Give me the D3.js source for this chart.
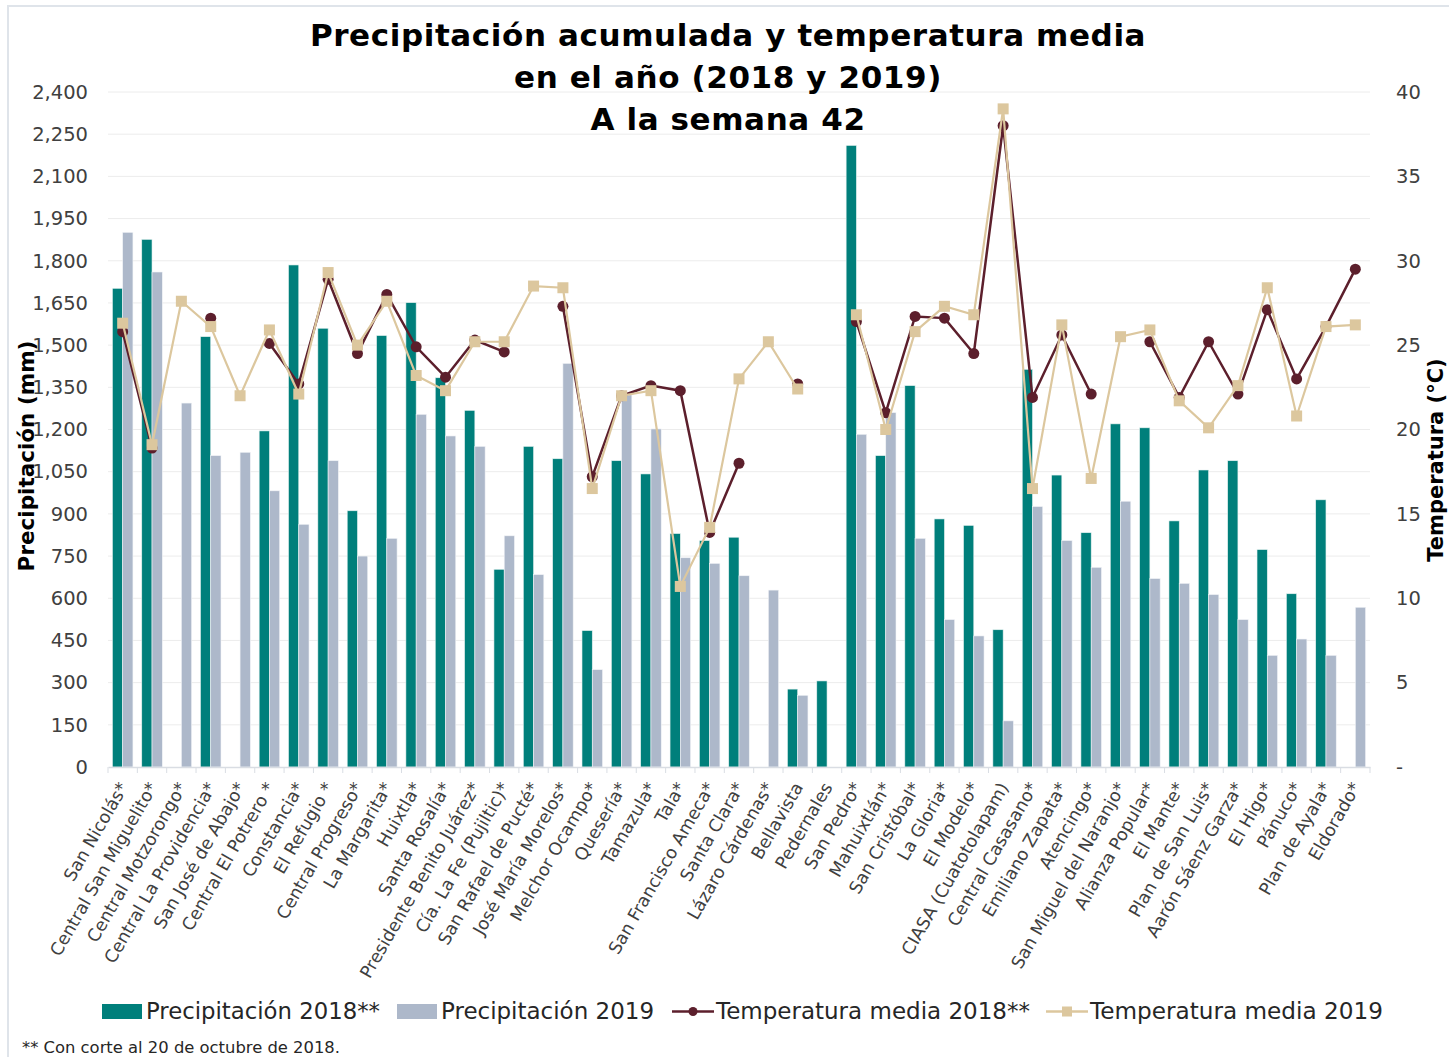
<!DOCTYPE html>
<html lang="es">
  <head>
    <meta charset="utf-8">
    <title>Precipitación y temperatura</title>
    <script src="https://d3js.org/d3.v7.js"></script>
    <style>
      body { margin: 0; background: white; }
      text { font-family: "DejaVu Sans", sans-serif; }
    </style>
  </head>
  <body>
    <script type="text/javascript">

      // categories (ingenios)
      const ingenios = ["San Nicolás*", "Central San Miguelito*", "Central Motzorongo*", "Central La Providencia*",
        "San José de Abajo*", "Central El Potrero *", "Constancia*", "El Refugio *", "Central Progreso*",
        "La Margarita*", "Huixtla*", "Santa Rosalía*", "Presidente Benito Juárez*", "Cía. La Fe (Pujiltic)*",
        "San Rafael de Pucté*", "José María Morelos*", "Melchor Ocampo*", "Quesería*", "Tamazula*", "Tala*",
        "San Francisco Ameca*", "Santa Clara*", "Lázaro Cárdenas*", "Bellavista", "Pedernales", "San Pedro*",
        "Mahuixtlán*", "San Cristóbal*", "La Gloria*", "El Modelo*", "CIASA (Cuatotolapam)", "Central Casasano*",
        "Emiliano Zapata*", "Atencingo*", "San Miguel del Naranjo*", "Alianza Popular*", "El Mante*",
        "Plan de San Luis*", "Aarón Sáenz Garza*", "El Higo*", "Pánuco*", "Plan de Ayala*", "Eldorado*"];

      // precipitacion acumulada (mm)
      const prec2018 = [1702, 1876, null, 1530, null, 1195, 1785, 1560, 911, 1534, 1651, 1384, 1268, 703,
        1140, 1096, 485, 1089, 1042, 830, 805, 817, null, 277, 306, 2210, 1107, 1356, 882, 859, 488, 1414,
        1038, 833, 1220, 1206, 875, 1056, 1089, 773, 616, 950, null];
      const prec2019 = [1901, 1760, 1294, 1107, 1119, 982, 863, 1089, 750, 813, 1254, 1177, 1140, 822,
        684, 1435, 346, 1323, 1202, 744, 724, 680, 629, 255, null, 1183, 1260, 813, 524, 466, 164, 926,
        805, 710, 945, 670, 653, 613, 524, 397, 455, 397, 568];

      // temperatura media (°C)
      const temp2018 = [25.8, 18.9, null, 26.6, null, 25.1, 22.7, 28.9, 24.5, 28.0, 24.9, 23.1, 25.3, 24.6,
        null, 27.3, 17.2, 22.0, 22.6, 22.3, 13.9, 18.0, null, 22.7, null, 26.4, 21.0, 26.7, 26.6, 24.5,
        38.0, 21.9, 25.6, 22.1, null, 25.2, 21.9, 25.2, 22.1, 27.1, 23.0, 26.1, 29.5];
      const temp2019 = [26.3, 19.1, 27.6, 26.1, 22.0, 25.9, 22.1, 29.3, 25.0, 27.6, 23.2, 22.3, 25.2, 25.2,
        28.5, 28.4, 16.5, 22.0, 22.3, 10.7, 14.2, 23.0, 25.2, 22.4, null, 26.8, 20.0, 25.8, 27.3, 26.8,
        39.0, 16.5, 26.2, 17.1, 25.5, 25.9, 21.7, 20.1, 22.6, 28.4, 20.8, 26.1, 26.2];

      const precTicks = d3.range(0, 2401, 150);
      const tempTicks = d3.range(0, 41, 5);

      const titleLines = ["Precipitación acumulada y temperatura media", "en el año (2018 y 2019)", "A la semana 42"];
      const seriesNames = ["Precipitación 2018**", "Precipitación 2019", "Temperatura media 2018**", "Temperatura media 2019"];
      const footnote = "** Con corte al 20 de octubre de 2018.";

      const w = 1449;
      const h = 1057;
      const colTeal = "#007f7b";
      const colGray = "#adb8ca";
      const colDark = "#5c1f2c";
      const colTan = "#dcc79e";

      const x0 = 108, x1 = 1370, yTop = 92, yBase = 767;

      const svg = d3.select("body")
        .append("svg")
        .attr("width", w)
        .attr("height", h);

      svg.append("rect")
        .attr("x", 0).attr("y", 0).attr("width", w).attr("height", h)
        .attr("fill", "white");

      // chart frame
      svg.append("path")
        .attr("d", `M8,${h} L8,6 L${w},6`)
        .attr("fill", "none")
        .attr("stroke", "#dfe4ea")
        .attr("stroke-width", 2);

      // scales
      const xScale = d3.scaleBand()
        .domain(ingenios)
        .range([x0, x1])
        .padding(0);

      const xSub = d3.scaleBand()
        .domain(["2018", "2019"])
        .range([0, xScale.bandwidth()])
        .paddingInner(0)
        .paddingOuter(0.43);

      const yPrec = d3.scaleLinear().domain([0, 2400]).range([yBase, yTop]);
      const yTemp = d3.scaleLinear().domain([0, 40]).range([yBase, yTop]);

      // gridlines
      svg.append("g")
        .selectAll("line")
        .data(precTicks.filter(d => d > 0))
        .enter()
        .append("line")
        .attr("x1", x0).attr("x2", x1)
        .attr("y1", d => yPrec(d)).attr("y2", d => yPrec(d))
        .attr("stroke", "#ececec")
        .attr("stroke-width", 1);

      // bars
      const bars = svg.append("g").attr("id", "bars");
      bars.selectAll("rect.p18")
        .data(ingenios.map((d, i) => ({ name: d, v: prec2018[i] })).filter(d => d.v != null))
        .enter()
        .append("rect")
        .attr("class", "p18")
        .attr("x", d => xScale(d.name) + xSub("2018"))
        .attr("width", xSub.bandwidth())
        .attr("y", d => yPrec(d.v))
        .attr("height", d => yBase - yPrec(d.v))
        .attr("fill", colTeal)
        .attr("stroke", "#e6f2f1")
        .attr("stroke-width", 0.6);

      bars.selectAll("rect.p19")
        .data(ingenios.map((d, i) => ({ name: d, v: prec2019[i] })).filter(d => d.v != null))
        .enter()
        .append("rect")
        .attr("class", "p19")
        .attr("x", d => xScale(d.name) + xSub("2019"))
        .attr("width", xSub.bandwidth())
        .attr("y", d => yPrec(d.v))
        .attr("height", d => yBase - yPrec(d.v))
        .attr("fill", colGray)
        .attr("stroke", "#f2f4f7")
        .attr("stroke-width", 0.6);

      // x axis
      const xAxis = d3.axisBottom(xScale).tickSize(0).tickFormat("");
      const gx = svg.append("g")
        .attr("id", "xaxis")
        .attr("transform", `translate(0, ${yBase})`)
        .call(xAxis);
      gx.select(".domain").attr("stroke", "#d9dde3").attr("stroke-width", 1.5);
      gx.selectAll(".bound")
        .data(d3.range(ingenios.length + 1))
        .enter()
        .append("line")
        .attr("x1", i => x0 + i * xScale.step())
        .attr("x2", i => x0 + i * xScale.step())
        .attr("y1", 0).attr("y2", 6)
        .attr("stroke", "#d9dde3")
        .attr("stroke-width", 1);

      // category labels
      svg.append("g")
        .selectAll("text")
        .data(ingenios)
        .enter()
        .append("text")
        .attr("transform", d => `translate(${xScale(d) + xScale.bandwidth() / 2 + 6}, ${yBase + 20}) rotate(-60)`)
        .attr("text-anchor", "end")
        .attr("font-size", 17.5)
        .attr("fill", "#404040")
        .text(d => d);

      // left axis
      const yAxisL = d3.axisLeft(yPrec).tickValues(precTicks).tickSize(0).tickPadding(0).tickFormat(d3.format(","));
      const gyl = svg.append("g")
        .attr("transform", `translate(88, 0)`)
        .call(yAxisL);
      gyl.select(".domain").remove();
      gyl.selectAll("text")
        .attr("font-size", 19.5)
        .attr("fill", "#404040")
        .style("font-family", "DejaVu Sans, sans-serif");

      // right axis
      const yAxisR = d3.axisRight(yTemp).tickValues(tempTicks).tickSize(0).tickPadding(0)
        .tickFormat(d => d === 0 ? "-" : d);
      const gyr = svg.append("g")
        .attr("transform", `translate(1396, 0)`)
        .call(yAxisR);
      gyr.select(".domain").remove();
      gyr.selectAll("text")
        .attr("font-size", 19.5)
        .attr("fill", "#404040")
        .style("font-family", "DejaVu Sans, sans-serif");

      // temperature lines
      const pts18 = ingenios.map((d, i) => ({ name: d, v: temp2018[i] }));
      const pts19 = ingenios.map((d, i) => ({ name: d, v: temp2019[i] }));
      const cx = d => xScale(d.name) + xScale.bandwidth() / 2;

      const line = d3.line()
        .defined(d => d.v != null)
        .x(cx)
        .y(d => yTemp(d.v));

      svg.append("path")
        .datum(pts18)
        .attr("d", line)
        .attr("fill", "none")
        .attr("stroke", colDark)
        .attr("stroke-width", 2.5);

      svg.append("g")
        .selectAll("circle")
        .data(pts18.filter(d => d.v != null))
        .enter()
        .append("circle")
        .attr("cx", cx)
        .attr("cy", d => yTemp(d.v))
        .attr("r", 5.5)
        .attr("fill", colDark);

      svg.append("path")
        .datum(pts19)
        .attr("d", line)
        .attr("fill", "none")
        .attr("stroke", colTan)
        .attr("stroke-width", 2.2);

      svg.append("g")
        .selectAll("rect")
        .data(pts19.filter(d => d.v != null))
        .enter()
        .append("rect")
        .attr("x", d => cx(d) - 5.5)
        .attr("y", d => yTemp(d.v) - 5.5)
        .attr("width", 11)
        .attr("height", 11)
        .attr("fill", colTan);

      // title
      svg.append("g")
        .selectAll("text")
        .data(titleLines)
        .enter()
        .append("text")
        .attr("x", 728)
        .attr("y", (d, i) => 46 + i * 42)
        .attr("text-anchor", "middle")
        .attr("font-size", 31)
        .attr("font-weight", "bold")
        .attr("letter-spacing", 0.6)
        .attr("fill", "#000")
        .text(d => d);

      // axis titles
      svg.append("text")
        .attr("transform", "translate(34, 456) rotate(-90)")
        .attr("text-anchor", "middle")
        .attr("font-size", 21.5)
        .attr("font-weight", "bold")
        .attr("fill", "#000")
        .text("Precipitación (mm)");

      svg.append("text")
        .attr("transform", "translate(1443, 460) rotate(-90)")
        .attr("text-anchor", "middle")
        .attr("font-size", 21)
        .attr("font-weight", "bold")
        .attr("fill", "#000")
        .text("Temperatura (°C)");

      // legend
      const legend = svg.append("g").attr("id", "legend");
      const legX = [102, 397, 672, 1046];
      const legTextLen = [234, 213, 314, 293];

      legend.append("rect").attr("x", legX[0]).attr("y", 1004).attr("width", 40).attr("height", 15).attr("fill", colTeal);
      legend.append("rect").attr("x", legX[1]).attr("y", 1004).attr("width", 40).attr("height", 15).attr("fill", colGray);
      legend.append("line").attr("x1", legX[2]).attr("x2", legX[2] + 42).attr("y1", 1011.5).attr("y2", 1011.5)
        .attr("stroke", colDark).attr("stroke-width", 2.5);
      legend.append("circle").attr("cx", legX[2] + 21).attr("cy", 1011.5).attr("r", 4.5).attr("fill", colDark);
      legend.append("line").attr("x1", legX[3]).attr("x2", legX[3] + 42).attr("y1", 1011.5).attr("y2", 1011.5)
        .attr("stroke", colTan).attr("stroke-width", 2.5);
      legend.append("rect").attr("x", legX[3] + 16).attr("y", 1006.5).attr("width", 10).attr("height", 10).attr("fill", colTan);

      legend.selectAll("text")
        .data(seriesNames)
        .enter()
        .append("text")
        .attr("x", (d, i) => legX[i] + 44)
        .attr("y", 1019)
        .attr("font-size", 23)
        .attr("fill", "#262626")
        .attr("textLength", (d, i) => legTextLen[i])
        .attr("lengthAdjust", "spacingAndGlyphs")
        .text(d => d);

      svg.append("text")
        .attr("x", 22)
        .attr("y", 1053)
        .attr("font-size", 16)
        .attr("fill", "#262626")
        .attr("textLength", 318)
        .attr("lengthAdjust", "spacingAndGlyphs")
        .text(footnote);

    </script>
  </body>
</html>
